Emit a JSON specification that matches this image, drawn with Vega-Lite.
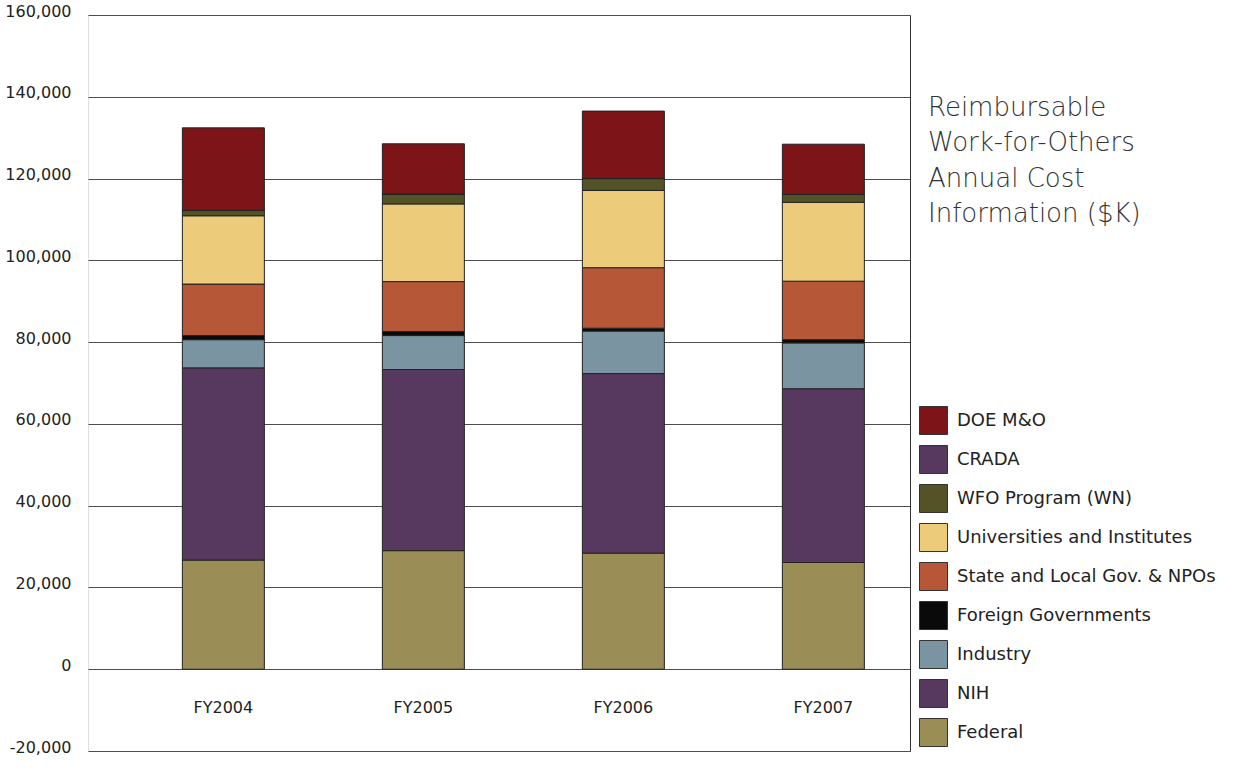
{
  "$schema": "https://vega.github.io/schema/vega-lite/v6.json",
  "autosize": {"type": "none"},
  "width": 822,
  "height": 736,
  "padding": {"left": 88, "top": 15, "right": 327, "bottom": 26},
  "background": "white",
  "title": {
    "text": ["Reimbursable", "Work-for-Others", "Annual Cost", "Information ($K)"],
    "orient": "top",
    "anchor": "end",
    "frame": "group",
    "align": "left",
    "baseline": "top",
    "offset": 0,
    "dx": 18,
    "dy": 224,
    "font": "DejaVu Sans",
    "fontSize": 26,
    "fontWeight": 200,
    "color": "#333333",
    "lineHeight": 35.5
  },
  "data": {
    "values": [
      {"year": "FY2004", "source": "Federal", "cost": 26700},
      {"year": "FY2004", "source": "NIH", "cost": 47000},
      {"year": "FY2004", "source": "Industry", "cost": 6900},
      {"year": "FY2004", "source": "Foreign Governments", "cost": 1000},
      {"year": "FY2004", "source": "State and Local Gov. & NPOs", "cost": 12600},
      {"year": "FY2004", "source": "Universities and Institutes", "cost": 16700},
      {"year": "FY2004", "source": "WFO Program (WN)", "cost": 1300},
      {"year": "FY2004", "source": "CRADA", "cost": 0},
      {"year": "FY2004", "source": "DOE M&O", "cost": 20200},
      {"year": "FY2005", "source": "Federal", "cost": 29000},
      {"year": "FY2005", "source": "NIH", "cost": 44300},
      {"year": "FY2005", "source": "Industry", "cost": 8300},
      {"year": "FY2005", "source": "Foreign Governments", "cost": 1000},
      {"year": "FY2005", "source": "State and Local Gov. & NPOs", "cost": 12200},
      {"year": "FY2005", "source": "Universities and Institutes", "cost": 19000},
      {"year": "FY2005", "source": "WFO Program (WN)", "cost": 2400},
      {"year": "FY2005", "source": "CRADA", "cost": 0},
      {"year": "FY2005", "source": "DOE M&O", "cost": 12300},
      {"year": "FY2006", "source": "Federal", "cost": 28400},
      {"year": "FY2006", "source": "NIH", "cost": 43900},
      {"year": "FY2006", "source": "Industry", "cost": 10400},
      {"year": "FY2006", "source": "Foreign Governments", "cost": 700},
      {"year": "FY2006", "source": "State and Local Gov. & NPOs", "cost": 14800},
      {"year": "FY2006", "source": "Universities and Institutes", "cost": 18900},
      {"year": "FY2006", "source": "WFO Program (WN)", "cost": 2900},
      {"year": "FY2006", "source": "CRADA", "cost": 0},
      {"year": "FY2006", "source": "DOE M&O", "cost": 16500},
      {"year": "FY2007", "source": "Federal", "cost": 26100},
      {"year": "FY2007", "source": "NIH", "cost": 42500},
      {"year": "FY2007", "source": "Industry", "cost": 11200},
      {"year": "FY2007", "source": "Foreign Governments", "cost": 800},
      {"year": "FY2007", "source": "State and Local Gov. & NPOs", "cost": 14300},
      {"year": "FY2007", "source": "Universities and Institutes", "cost": 19300},
      {"year": "FY2007", "source": "WFO Program (WN)", "cost": 1900},
      {"year": "FY2007", "source": "CRADA", "cost": 0},
      {"year": "FY2007", "source": "DOE M&O", "cost": 12300}
    ]
  },
  "layer": [
    {
      "transform": [
        {
          "calculate": "indexof(['Federal', 'NIH', 'Industry', 'Foreign Governments', 'State and Local Gov. & NPOs', 'Universities and Institutes', 'WFO Program (WN)', 'CRADA', 'DOE M&O'], datum.source)",
          "as": "stackOrder"
        }
      ],
      "mark": {"type": "bar", "stroke": "#222222", "strokeWidth": 1},
      "encoding": {
        "x": {
          "field": "year",
          "type": "nominal",
          "scale": {"paddingInner": 0.59, "paddingOuter": 0.35, "align": 0.674},
          "axis": {
            "orient": "bottom",
            "offset": -82,
            "title": null,
            "domain": false,
            "ticks": false,
            "labelAngle": 0,
            "labelBaseline": "top",
            "labelPadding": 30,
            "labelFont": "DejaVu Sans",
            "labelFontSize": 16,
            "labelColor": "#222222"
          }
        },
        "y": {
          "field": "cost",
          "type": "quantitative",
          "stack": "zero",
          "scale": {"domain": [-20000, 160000], "nice": false, "zero": false},
          "axis": {
            "orient": "left",
            "title": null,
            "values": [-20000, 0, 20000, 40000, 60000, 80000, 100000, 120000, 140000, 160000],
            "format": ",.0f",
            "labelExpr": "replace(datum.label, '\u2212', '-')",
            "grid": true,
            "gridColor": "#4d4d4d",
            "gridWidth": 1,
            "domain": false,
            "ticks": false,
            "labelPadding": 17,
            "labelOffset": -4,
            "labelFont": "DejaVu Sans",
            "labelFontSize": 16,
            "labelColor": "#222222"
          }
        },
        "order": {"field": "stackOrder", "type": "quantitative", "sort": "ascending"},
        "color": {
          "field": "source",
          "type": "nominal",
          "scale": {
            "domain": [
              "DOE M&O", "CRADA", "WFO Program (WN)", "Universities and Institutes",
              "State and Local Gov. & NPOs", "Foreign Governments", "Industry", "NIH", "Federal"
            ],
            "range": [
              "#7d1518", "#57395f", "#545327", "#eccc7b",
              "#b65838", "#0a0a0a", "#7a95a1", "#57395f", "#9b8d56"
            ]
          },
          "legend": {
            "title": null,
            "orient": "none",
            "legendX": 831,
            "legendY": 391,
            "padding": 0,
            "symbolType": "square",
            "symbolSize": 784,
            "symbolStrokeColor": "#333333",
            "symbolStrokeWidth": 1,
            "symbolOpacity": 1,
            "rowPadding": 6,
            "labelOffset": 9,
            "labelFont": "DejaVu Sans",
            "labelFontSize": 18,
            "labelColor": "#222222",
            "labelLimit": 320
          }
        }
      }
    },
    {
      "data": {"values": [{"level": 0}]},
      "mark": {"type": "rule", "opacity": 0},
      "encoding": {
        "y": {
          "field": "level",
          "type": "quantitative",
          "axis": {
            "orient": "right",
            "title": null,
            "labels": false,
            "ticks": false,
            "grid": false,
            "domain": true,
            "domainColor": "#333333",
            "domainWidth": 1
          }
        }
      }
    }
  ],
  "resolve": {"axis": {"y": "independent"}}
}
